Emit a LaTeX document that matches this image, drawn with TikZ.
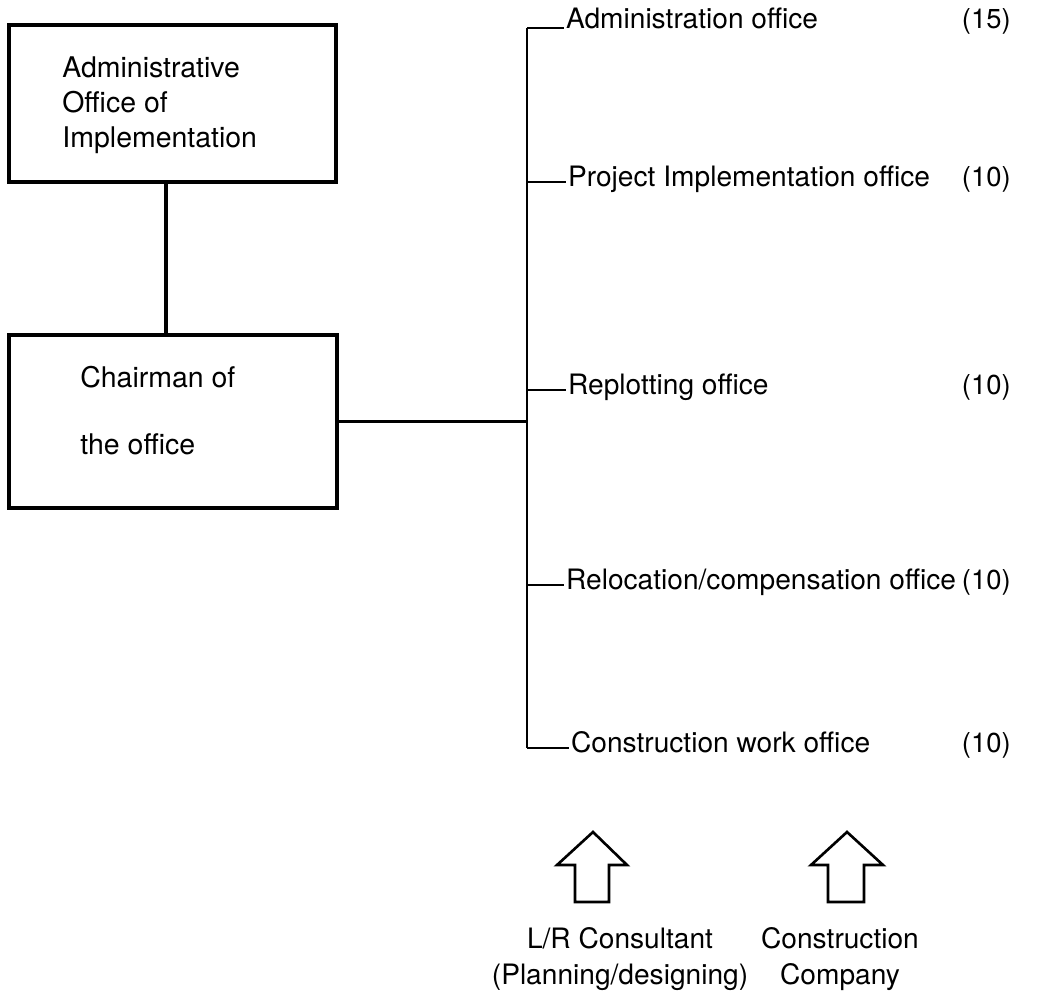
\documentclass[tikz,border=0pt]{standalone}
\usepackage{fontspec}
\setmainfont{TeX Gyre Heros}
\begin{document}
\begin{tikzpicture}[x=0.02cm,y=-0.02cm,
	orgbox/.style={draw, line width=1.8pt, rectangle, inner sep=0pt},
	boxtext/.style={anchor=west, align=left, inner sep=0pt, font=\fontsize{16.2}{19.9}\selectfont},
	office/.style={anchor=west, inner sep=1pt, text height=0.72em, text depth=0.2em, font=\fontsize{16}{19.9}\selectfont},
	staffno/.style={anchor=east, inner sep=0pt, text height=0.72em, text depth=0.2em, font=\fontsize{15.6}{19.9}\selectfont},
	partner/.style={align=center, inner sep=0pt, font=\fontsize{16}{20.5}\selectfont},
	tick/.style={line width=1.1pt},
	blockarrow/.style={draw, line width=1.5pt, line join=miter}]
		\useasboundingbox (0,0) rectangle (1037,994);
		
		% the two boxes on the left
		\node [orgbox, minimum width=6.54cm, minimum height=3.14cm] (adm) at (172.5,103.5) {};
		\node [boxtext] (admtext) at (62,105) {Administrative\\Office of\\Implementation};
		
		\node [orgbox, minimum width=6.56cm, minimum height=3.46cm] (chair) at (173,421.5) {};
		\node [boxtext, font=\fontsize{16.2}{38.1}\selectfont] (chairtext) at (80,411) {Chairman of\\the office};
		
		\coordinate (stem) at (166,0);
		\draw [line width=1.8pt] (adm.south -| stem) -- (chair.north -| stem);
		
		% spine of the offices
		\coordinate (spinetop) at (527,28);
		\coordinate (spinebot) at (527,748);
		\draw [line width=1.6pt] (spinetop) -- (spinebot);
		\draw [line width=1.4pt] (chair.east) -- (chair.east -| spinetop);
		
		\node [office, anchor=base west] (admoff) at (564,28) {Administration office};
		\node [office] (projoff) at (566,182) {Project Implementation office};
		\node [office] (replot) at (566,390) {Replotting office};
		\node [office] (reloc) at (564,585) {Relocation/compensation office};
		\node [office] (constr) at (569,748) {Construction work office};
		
		\node [staffno, anchor=base east] (admno) at (1011,28) {(15)};
		\node [staffno] (projno) at (1011,182) {(10)};
		\node [staffno] (replotno) at (1011,390) {(10)};
		\node [staffno] (relocno) at (1011,585) {(10)};
		\node [staffno] (constrno) at (1011,748) {(10)};
		
		\draw [tick] (spinetop) -- (admoff.base west);
		\draw [tick] (projoff.west -| spinetop) -- (projoff.west);
		\draw [tick] (replot.west -| spinetop) -- (replot.west);
		\draw [tick] (reloc.west -| spinetop) -- (reloc.west);
		\draw [tick] (spinebot) -- (constr.west);
		
		% outline arrows from the outside partners
		\draw [blockarrow] (593,832) -- (627,865) -- (609,865) -- (609,902) -- (575,902) -- (575,865) -- (557,865) -- cycle;
		\draw [blockarrow] (847,832) -- (883,865) -- (864,865) -- (864,902) -- (828,902) -- (828,865) -- (811,865) -- cycle;
		
		\node [partner] (consultant) at (620,959) {L/R Consultant\\(Planning/designing)};
		\node [partner] (company) at (840,959) {Construction\\Company};
		
\end{tikzpicture}
\end{document}
